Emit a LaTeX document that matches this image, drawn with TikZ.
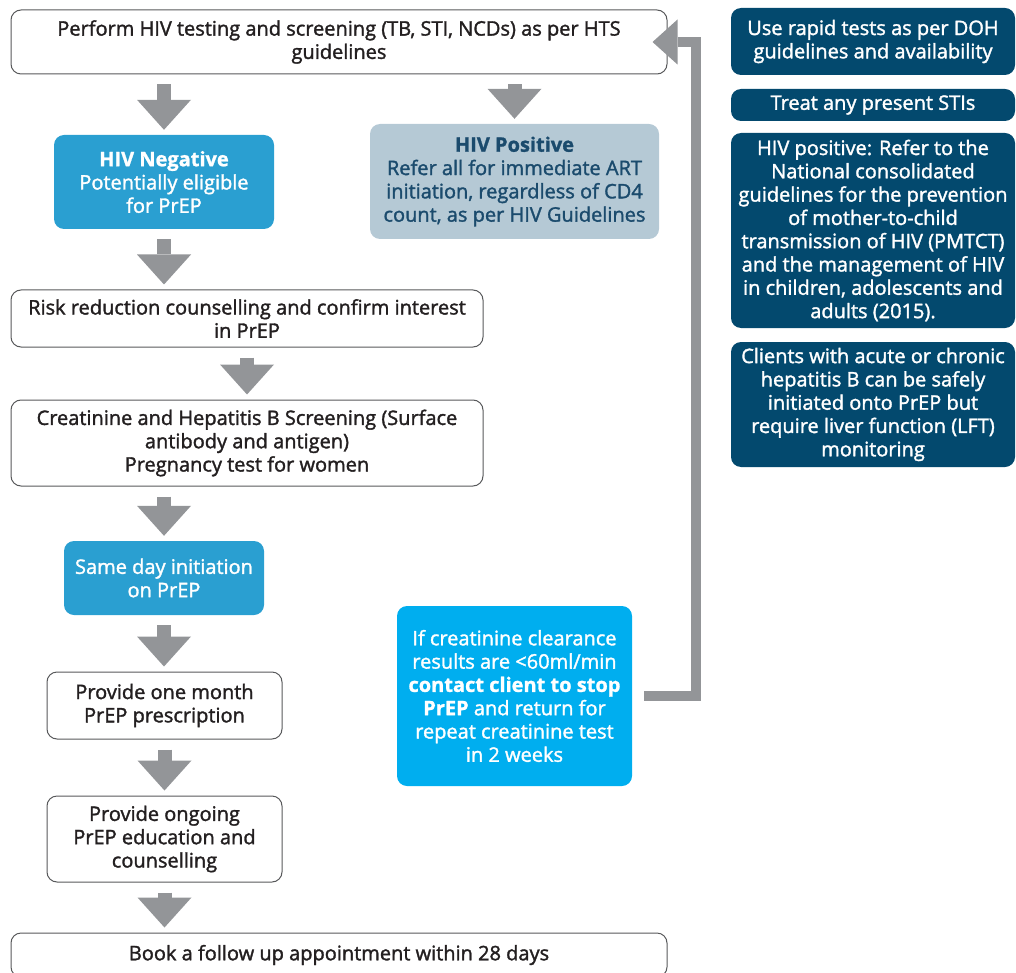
\documentclass[tikz,border=0pt]{standalone}
\usepackage{fontspec}
\setmainfont{Open Sans}[UprightFeatures={FakeBold=1.6}, BoldFeatures={FakeBold=1.2}]
\usetikzlibrary{arrows.meta}

\definecolor{arrowgray}{HTML}{939598}
\definecolor{edgegray}{HTML}{58595B}
\definecolor{negblue}{HTML}{2A9FD1}
\definecolor{posfill}{HTML}{B5C9D5}
\definecolor{postext}{HTML}{1B4B6D}
\definecolor{clrcyan}{HTML}{00AEEF}
\definecolor{darkblue}{HTML}{03496E}
\definecolor{inkblack}{HTML}{231F20}

\tikzset{
  box/.style={rounded corners=10pt, align=center, inner sep=0pt,
    font=\fontsize{20}{23.3}\selectfont},
  stepbox/.style={box, draw=edgegray, line width=1pt, fill=white, text=inkblack},
  negbox/.style={box, fill=negblue, text=white},
  posbox/.style={box, fill=posfill, text=postext},
  warnbox/.style={box, fill=clrcyan, text=white},
  notebox/.style={box, fill=darkblue, text=white, minimum width=284pt},
  flow/.style={draw=arrowgray, line width=14pt,
    -{Triangle[width=54pt,length=30pt,line width=0pt]},
    shorten <=10pt, shorten >=5pt},
  back/.style={draw=arrowgray, line width=10pt,
    -{Triangle[width=45pt,length=25pt,line width=0pt]}}
}

\begin{document}
\begin{tikzpicture}[x=1pt,y=-1pt]
\useasboundingbox (0,0) rectangle (1016,973);

% main column
\node[stepbox, minimum width=656pt, minimum height=64pt] (test) at (339,42)
  {Perform HIV testing and screening (TB, STI, NCDs) as per HTS\\guidelines};
\node[negbox, minimum width=220pt, minimum height=94pt] (neg) at (164,182)
  {\textbf{HIV Negative}\\Potentially eligible\\for PrEP};
\node[posbox, minimum width=289pt, minimum height=115pt] (pos) at (514.5,181.5)
  {\textbf{HIV Positive}\\Refer all for immediate ART\\initiation, regardless of CD4\\count, as per HIV Guidelines};
\node[stepbox, minimum width=472pt, minimum height=57pt] (risk) at (247,318.5)
  {Risk reduction counselling and confirm interest\\in PrEP};
\node[stepbox, minimum width=472pt, minimum height=86pt] (screen) at (247,443)
  {Creatinine and Hepatitis B Screening (Surface\\antibody and antigen)\\Pregnancy test for women};
\node[negbox, minimum width=200pt, minimum height=74pt] (sameday) at (164,578)
  {Same day initiation\\on PrEP};
\node[stepbox, minimum width=235pt, minimum height=67pt] (month) at (164.5,705.5)
  {Provide one month\\PrEP prescription};
\node[stepbox, minimum width=235pt, minimum height=86pt] (ongoing) at (164.5,839)
  {Provide ongoing\\PrEP education and\\counselling};
\node[stepbox, minimum width=656pt, minimum height=44pt] (book) at (339,955)
  {Book a follow up appointment within 28 days};
\node[warnbox, minimum width=235pt, minimum height=180pt] (clr) at (514.5,696)
  {If creatinine clearance\\results are <60ml/min\\\textbf{contact client to stop}\\\textbf{PrEP} and return for\\repeat creatinine test\\in 2 weeks};

% side notes
\node[notebox, minimum height=67pt] (note1) at (873,41.5)
  {Use rapid tests as per DOH\\guidelines and availability};
\node[notebox, minimum height=32pt] (note2) at (873,105)
  {Treat any present STIs};
\node[notebox, minimum height=195pt] (note3) at (873,230.5)
  {HIV positive: Refer to the\\National consolidated\\guidelines for the prevention\\of mother-to-child\\transmission of HIV (PMTCT)\\and the management of HIV\\in children, adolescents and\\adults (2015).};
\node[notebox, minimum height=125pt] (note4) at (873,404.5)
  {Clients with acute or chronic\\hepatitis B can be safely\\initiated onto PrEP but\\require liver function (LFT)\\monitoring};

% arrows
\draw[flow] (neg.north |- test.south) -- (neg.north);
\draw[flow] (pos.north |- test.south) -- (pos.north);
\draw[flow] (neg.south) -- (neg.south |- risk.north);
\draw[flow] (risk.south) -- (screen.north);
\draw[flow] (sameday.north |- screen.south) -- (sameday.north);
\draw[flow] (sameday.south) -- (sameday.south |- month.north);
\draw[flow] (month.south) -- (month.south |- ongoing.north);
\draw[flow] (ongoing.south) -- (ongoing.south |- book.north);

\coordinate (turn) at ([xshift=28.5pt]test.east);
\draw[back, shorten <=12pt, shorten >=-15pt] (clr.east) -| (turn) -- (test.east);

\end{tikzpicture}
\end{document}
